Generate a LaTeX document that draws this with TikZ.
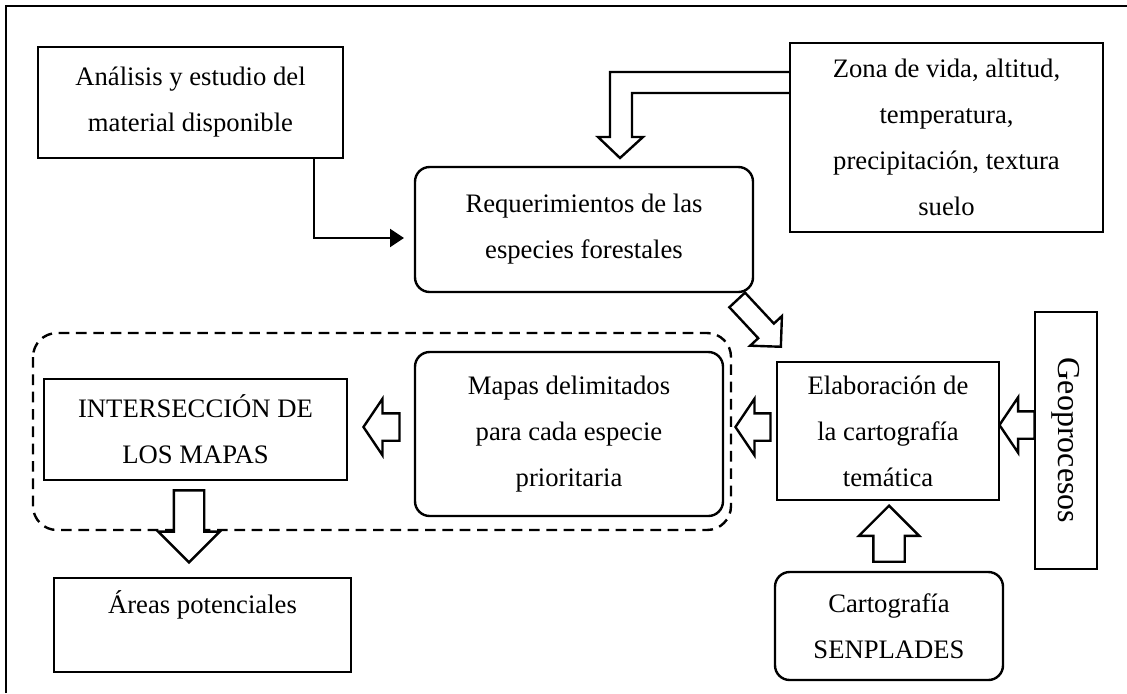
\documentclass[tikz,border=0pt]{standalone}
\usepackage{fontspec}
\setmainfont{Liberation Serif}
\usetikzlibrary{arrows.meta,shapes.arrows}

\begin{document}
\begin{tikzpicture}[
        x=0.75pt, y=-0.75pt,
        caja/.style={draw, line width=1.8pt, inner sep=0pt, align=center, font=\fontsize{20}{34.5}\selectfont},
        redonda/.style={caja, rounded corners=11pt},
        flecha/.style={single arrow, draw, line width=1.8pt, fill=white, inner xsep=0pt, anchor=tip},
        conector/.style={line width=1.8pt, -{Triangle[length=10.5pt,width=13.5pt]}},
        hueca/.style={line width=1.8pt, line join=miter},
        grupo/.style={line width=1.8pt, dash pattern=on 8pt off 5pt, rounded corners=18pt}
      ]
      \useasboundingbox (0,0) rectangle (1127,693);
      \draw[line width=2.2pt] (6,693) -- (6,6) -- (1127,6);
      \node[caja, minimum width=228.75pt, minimum height=83.25pt] (anal) at (190.5,102.5) {Análisis y estudio del\\material disponible};
      \node[redonda, minimum width=253.5pt, minimum height=93.75pt] (req) at (584,229.5) {Requerimientos de las\\especies forestales};
      \node[caja, minimum width=234.75pt, minimum height=141.75pt] (zona) at (946.5,137.5) {Zona de vida, altitud,\\temperatura,\\precipitación, textura\\suelo};
      \node[caja, minimum width=227.25pt, minimum height=75.75pt] (inter) at (195.5,429.5) {INTERSECCIÓN DE\\LOS MAPAS};
      \node[redonda, minimum width=231pt, minimum height=123pt] (mapas) at (569,434) {Mapas delimitados\\para cada especie\\prioritaria};
      \node[caja, minimum width=166.5pt, minimum height=103.5pt] (elab) at (888,431) {Elaboración de\\la cartografía\\temática};
      \node[caja, rotate=-90, minimum width=192.75pt, minimum height=46.5pt, font=\fontsize{24}{28}\selectfont] (geo) at (1066,440.5) {Geoprocesos};
      \node[redonda, minimum width=171pt, minimum height=81pt] (sen) at (889,626) {Cartografía\\SENPLADES};
      \node[caja, minimum width=222.75pt, minimum height=70.5pt] (areas) at (202.5,625) {Áreas potenciales\\~};
      \draw[grupo] (33,333) rectangle (731,530);
      \coordinate (llega) at (404,238);
      \draw[conector] (anal.south -| 314,0) |- (llega);
      \draw[hueca] (zona.west |- 0,72) -- (610,72) -- (610,137) -- (598,137) -- (620,158)
        -- (643,137) -- (632,137) -- (632,93) -- (zona.west |- 0,93);
      \node[flecha, rotate=-47, minimum height=48pt, minimum width=30.75pt, inner ysep=7.125pt, single arrow head extend=8.25pt] (f1) at (782,348) {};
      \node[flecha, rotate=180, minimum height=26.25pt, minimum width=40.5pt, inner ysep=9.375pt, single arrow head extend=10.875pt, single arrow tip angle=112] (f2) at (734,427) {};
      \node[flecha, rotate=180, minimum height=27pt, minimum width=40.5pt, inner ysep=9.375pt, single arrow head extend=10.875pt, single arrow tip angle=112] (f3) at (362,427) {};
      \node[flecha, rotate=180, minimum height=26.25pt, minimum width=40pt, inner ysep=9.375pt, single arrow head extend=10.5pt, single arrow tip angle=112] (f4) at (998,425) {};
      \node[flecha, rotate=90, minimum height=42pt, minimum width=43.5pt, inner ysep=10.875pt, single arrow head extend=10.875pt] (f5) at (889,504) {};
      \node[flecha, rotate=-90, minimum height=54pt, minimum width=44.25pt, inner ysep=10.5pt, single arrow head extend=11.625pt] (f6) at (189,564) {};
    \end{tikzpicture}
\end{document}
